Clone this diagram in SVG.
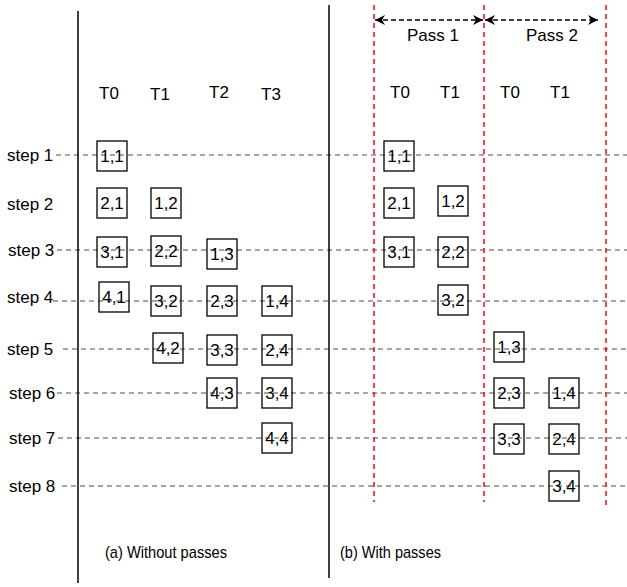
<svg xmlns="http://www.w3.org/2000/svg" width="627" height="587" viewBox="0 0 627 587">
<defs>
<marker id="ah" viewBox="0 0 10 10" refX="10" refY="5" markerWidth="10" markerHeight="10" markerUnits="userSpaceOnUse" orient="auto-start-reverse">
<path d="M0,0 L10,5 L0,10 L3,5 Z" fill="#000"/>
</marker>
<style>
text{font-family:"Liberation Sans",Arial,sans-serif;font-size:17px;fill:#000}
.c{text-anchor:middle}
.box rect{fill:none;stroke:#000;stroke-width:1.3}
.grid{stroke:#888;stroke-width:1.3;stroke-dasharray:5,4;fill:none}
.red{stroke:#f00;stroke-width:1.5;stroke-dasharray:5,4;fill:none}
.blk{stroke:#000;stroke-width:1.5;fill:none}
.arr{stroke:#000;stroke-width:1.5;stroke-dasharray:5,3;fill:none;marker-start:url(#ah);marker-end:url(#ah)}
</style>
</defs>
<rect width="627" height="587" fill="#fff"/>
<g id="connectors">
<line class="grid" x1="56" y1="155" x2="627" y2="155"/>
<line class="grid" x1="57" y1="250" x2="627" y2="250"/>
<line class="grid" x1="53" y1="301" x2="627" y2="301"/>
<line class="grid" x1="63" y1="349" x2="627" y2="349"/>
<line class="grid" x1="57" y1="393" x2="627" y2="393"/>
<line class="grid" x1="58" y1="438" x2="627" y2="438"/>
<line class="grid" x1="62" y1="486" x2="627" y2="486"/>
<line class="blk" x1="78" y1="11" x2="78" y2="583"/>
<line class="blk" x1="329" y1="5" x2="329" y2="578"/>
<line class="red" x1="374" y1="5" x2="374" y2="502"/>
<line class="red" x1="484" y1="5" x2="484" y2="502"/>
<line class="red" x1="606" y1="5" x2="606" y2="505"/>
<line class="arr" x1="375" y1="20" x2="483" y2="20"/>
<line class="arr" x1="485" y1="20" x2="598" y2="20"/>
</g>
<g id="labels">
<text class="c" x="433" y="41">Pass 1</text>
<text class="c" x="552" y="41">Pass 2</text>
<text class="c" x="109" y="99">T0</text>
<text class="c" x="160" y="100">T1</text>
<text class="c" x="219" y="98">T2</text>
<text class="c" x="271" y="100">T3</text>
<text class="c" x="400" y="98">T0</text>
<text class="c" x="450" y="98">T1</text>
<text class="c" x="510" y="98">T0</text>
<text class="c" x="560" y="98">T1</text>
<text x="7" y="161">step 1</text>
<text x="7" y="210">step 2</text>
<text x="8" y="256">step 3</text>
<text x="7" y="303">step 4</text>
<text x="7" y="355">step 5</text>
<text x="9" y="399">step 6</text>
<text x="9" y="444">step 7</text>
<text x="9" y="492">step 8</text>
<text x="105" y="558" textLength="122" lengthAdjust="spacingAndGlyphs">(a) Without passes</text>
<text x="340" y="558" textLength="101" lengthAdjust="spacingAndGlyphs">(b) With passes</text>
</g>
<g id="a11" class="box"><rect x="97" y="141" width="30" height="30"/><text class="c" x="112" y="162">1,1</text></g>
<g id="a21" class="box"><rect x="97" y="188" width="30" height="30"/><text class="c" x="112" y="209">2,1</text></g>
<g id="a12" class="box"><rect x="151" y="188" width="30" height="30"/><text class="c" x="166" y="209">1,2</text></g>
<g id="a31" class="box"><rect x="97" y="237" width="30" height="30"/><text class="c" x="112" y="258">3,1</text></g>
<g id="a22" class="box"><rect x="151" y="236" width="30" height="30"/><text class="c" x="166" y="257">2,2</text></g>
<g id="a13" class="box"><rect x="207" y="239" width="30" height="30"/><text class="c" x="222" y="260">1,3</text></g>
<g id="a41" class="box"><rect x="99" y="282" width="30" height="30"/><text class="c" x="114" y="303">4,1</text></g>
<g id="a32" class="box"><rect x="151" y="286" width="30" height="30"/><text class="c" x="166" y="307">3,2</text></g>
<g id="a23" class="box"><rect x="207" y="286" width="30" height="30"/><text class="c" x="222" y="307">2,3</text></g>
<g id="a14" class="box"><rect x="262" y="286" width="30" height="30"/><text class="c" x="277" y="307">1,4</text></g>
<g id="a42" class="box"><rect x="153" y="333" width="30" height="30"/><text class="c" x="168" y="354">4,2</text></g>
<g id="a33" class="box"><rect x="207" y="335" width="30" height="30"/><text class="c" x="222" y="356">3,3</text></g>
<g id="a24" class="box"><rect x="262" y="335" width="30" height="30"/><text class="c" x="277" y="356">2,4</text></g>
<g id="a43" class="box"><rect x="207" y="378" width="30" height="30"/><text class="c" x="222" y="399">4,3</text></g>
<g id="a34" class="box"><rect x="262" y="378" width="30" height="30"/><text class="c" x="277" y="399">3,4</text></g>
<g id="a44" class="box"><rect x="262" y="423" width="30" height="30"/><text class="c" x="277" y="444">4,4</text></g>
<g id="b11" class="box"><rect x="384" y="141" width="30" height="30"/><text class="c" x="399" y="162">1,1</text></g>
<g id="b21" class="box"><rect x="384" y="188" width="30" height="30"/><text class="c" x="399" y="209">2,1</text></g>
<g id="b12" class="box"><rect x="438" y="186" width="30" height="30"/><text class="c" x="453" y="207">1,2</text></g>
<g id="b31" class="box"><rect x="384" y="237" width="30" height="30"/><text class="c" x="399" y="258">3,1</text></g>
<g id="b22" class="box"><rect x="438" y="237" width="30" height="30"/><text class="c" x="453" y="258">2,2</text></g>
<g id="b32" class="box"><rect x="438" y="285" width="30" height="30"/><text class="c" x="453" y="306">3,2</text></g>
<g id="b13" class="box"><rect x="494" y="332" width="30" height="30"/><text class="c" x="509" y="353">1,3</text></g>
<g id="b23" class="box"><rect x="494" y="378" width="30" height="30"/><text class="c" x="509" y="399">2,3</text></g>
<g id="b14" class="box"><rect x="549" y="378" width="30" height="30"/><text class="c" x="564" y="399">1,4</text></g>
<g id="b33" class="box"><rect x="494" y="424" width="30" height="30"/><text class="c" x="509" y="445">3,3</text></g>
<g id="b24" class="box"><rect x="549" y="424" width="30" height="30"/><text class="c" x="564" y="445">2,4</text></g>
<g id="b34" class="box"><rect x="549" y="471" width="30" height="30"/><text class="c" x="564" y="492">3,4</text></g>
</svg>
